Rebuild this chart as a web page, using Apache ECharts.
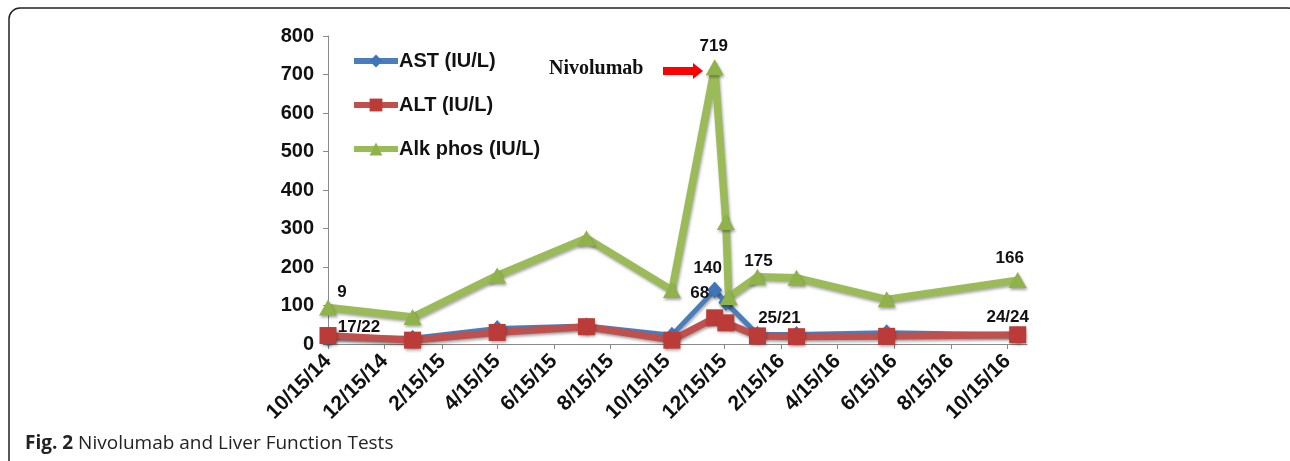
<!DOCTYPE html>
<html>
<head>
<meta charset="utf-8">
<script src="https://cdn.jsdelivr.net/npm/echarts@6/dist/echarts.min.js"></script>
<style>
  html, body { margin: 0; padding: 0; background: #fff; }
  #chart { width: 1290px; height: 461px; }
</style>
</head>
<body>
<div id="chart"></div>
<script>
// Sampling dates (M/D/YY) shared by all three tests
const sampleDates = ['10/15/14', '1/14/15', '4/15/15', '7/20/15', '10/20/15', '12/5/15',
                     '12/17/15', '12/20/15', '1/20/16', '3/2/16', '6/7/16', '10/26/16'];
// Test values in IU/L (null = not drawn on that date)
const astValues = [17, 15, 40, 47, 23, 140, 108, null, 25, 25, 29, 24];
const altValues = [22, 10, 30, 45, 10, 68, 55, null, 21, 19, 20, 24];
const alkValues = [95, 70, 178, 275, 140, 719, 317, 122, 175, 172, 116, 166];
// Printed callouts next to points
const astCallouts = ['17/22', '', '', '', '', '140', '', '', '25/21', '', '', '24/24'];
const altCallouts = ['', '', '', '', '', '68', '', '', '', '', '', ''];
const alkCallouts = ['9', '', '', '', '', '719', '', '', '175', '', '', '166'];
// Date axis tick labels
const tickLabels = ['10/15/14', '12/15/14', '2/15/15', '4/15/15', '6/15/15', '8/15/15', '10/15/15',
                    '12/15/15', '2/15/16', '4/15/16', '6/15/16', '8/15/16', '10/15/16'];
const axisEnd = '11/5/16';
const yTicks = [0, 100, 200, 300, 400, 500, 600, 700, 800];

function toTime(s) {
  const [m, d, y] = s.split('/').map(Number);
  return Date.UTC(2000 + y, m - 1, d);
}
const tickTimes = tickLabels.map(toTime);

// callout offsets from the marker centre [dx, dy]
const calloutOffsets = {
  ast: { 0: [31, -10], 5: [-7, -22], 8: [22, -16], 11: [-10, -17] },
  alt: { 5: [-15, -25] },
  alk: { 0: [14, -15], 5: [-1, -21], 8: [1, -15], 11: [-8, -22] }
};

function buildData(values, callouts, key) {
  return values.map((v, i) => {
    const item = { value: [toTime(sampleDates[i]), v] };
    if (callouts[i]) {
      item.label = {
        show: true,
        position: 'inside',
        offset: calloutOffsets[key][i],
        formatter: callouts[i],
        color: '#111',
        fontFamily: 'Liberation Sans, Arial, sans-serif',
        fontWeight: 'bold',
        fontSize: 17,
        align: 'center',
        verticalAlign: 'middle'
      };
    }
    return item;
  });
}

const shadow = { shadowColor: 'rgba(0,0,0,0.35)', shadowBlur: 3, shadowOffsetX: 1, shadowOffsetY: 2 };

const chart = echarts.init(document.getElementById('chart'), null, { renderer: 'canvas' });
chart.setOption({
  backgroundColor: '#fff',
  animation: false,
  grid: { left: 328, top: 36, width: 699, height: 308, containLabel: false },
  legend: {
    orient: 'vertical',
    left: 346,
    top: 46,
    itemWidth: 44,
    itemHeight: 16,
    itemGap: 24,
    lineStyle: { width: 6 },
    textStyle: {
      fontFamily: 'Liberation Sans, Arial, sans-serif',
      fontWeight: 'bold',
      fontSize: 20,
      lineHeight: 18,
      color: '#111',
      padding: [0, 0, 0, -4]
    },
    data: ['AST (IU/L)', 'ALT (IU/L)', 'Alk phos (IU/L)']
  },
  xAxis: {
    // dates as UTC milliseconds on a linear scale, ticks on the 15th of every other month
    type: 'value',
    min: toTime(tickLabels[0]),
    max: toTime(axisEnd),
    splitLine: { show: false },
    axisLine: { lineStyle: { color: '#8a8a8a', width: 1 } },
    axisTick: { show: true, customValues: tickTimes, length: 5, lineStyle: { color: '#8a8a8a' } },
    axisLabel: {
      customValues: tickTimes,
      rotate: 45,
      margin: 14,
      color: '#111',
      fontFamily: 'Liberation Sans, Arial, sans-serif',
      fontWeight: 'bold',
      fontSize: 21,
      formatter: (val) => {
        const i = tickTimes.indexOf(val);
        return i >= 0 ? tickLabels[i] : '';
      }
    }
  },
  yAxis: {
    type: 'value',
    min: yTicks[0],
    max: yTicks[yTicks.length - 1],
    interval: yTicks[1] - yTicks[0],
    splitLine: { show: false },
    axisLine: { show: true, lineStyle: { color: '#8a8a8a', width: 1 } },
    axisTick: { show: true, length: 5, lineStyle: { color: '#8a8a8a' } },
    axisLabel: {
      margin: 14,
      color: '#111',
      fontFamily: 'Liberation Sans, Arial, sans-serif',
      fontWeight: 'bold',
      fontSize: 20
    }
  },
  series: [
    {
      name: 'AST (IU/L)',
      type: 'line',
      connectNulls: true,
      symbol: 'diamond',
      symbolSize: [15, 17],
      lineStyle: Object.assign({ color: '#4a7ebb', width: 5 }, shadow),
      itemStyle: Object.assign({ color: '#3f74b8' }, shadow),
      data: buildData(astValues, astCallouts, 'ast'),
      z: 2
    },
    {
      name: 'ALT (IU/L)',
      type: 'line',
      connectNulls: true,
      symbol: 'rect',
      symbolSize: 17,
      lineStyle: Object.assign({ color: '#c0504d', width: 7 }, shadow),
      itemStyle: Object.assign({ color: '#bb3b38' }, shadow),
      data: buildData(altValues, altCallouts, 'alt'),
      z: 3
    },
    {
      name: 'Alk phos (IU/L)',
      type: 'line',
      connectNulls: true,
      symbol: 'triangle',
      symbolSize: [18, 16],
      lineStyle: Object.assign({ color: '#9bbb59', width: 7.5 }, shadow),
      itemStyle: Object.assign({ color: '#8fb24a' }, shadow),
      data: buildData(alkValues, alkCallouts, 'alk'),
      z: 4
    }
  ],
  graphic: [
    {
      type: 'rect',
      shape: { x: 9, y: 8, width: 1290, height: 540, r: 11 },
      style: { fill: 'none', stroke: '#222', lineWidth: 1.5 },
      silent: true
    },
    {
      type: 'text',
      left: 549,
      top: 59,
      style: {
        text: 'Nivolumab',
        fill: '#111',
        font: 'bold 20px "Liberation Serif", "Times New Roman", serif'
      }
    },
    {
      type: 'polygon',
      shape: { points: [[663, 67], [693, 67], [693, 63], [703, 71], [693, 79], [693, 75], [663, 75]] },
      style: { fill: '#ff0000' }
    },
    {
      type: 'text',
      left: 25,
      top: 434,
      style: {
        text: '{b|Fig. 2} Nivolumab and Liver Function Tests',
        fill: '#222',
        font: '19px "Open Sans", sans-serif',
        rich: {
          b: { font: 'bold 19px "Open Sans", sans-serif', fill: '#222' }
        }
      }
    }
  ]
});
</script>
</body>
</html>
